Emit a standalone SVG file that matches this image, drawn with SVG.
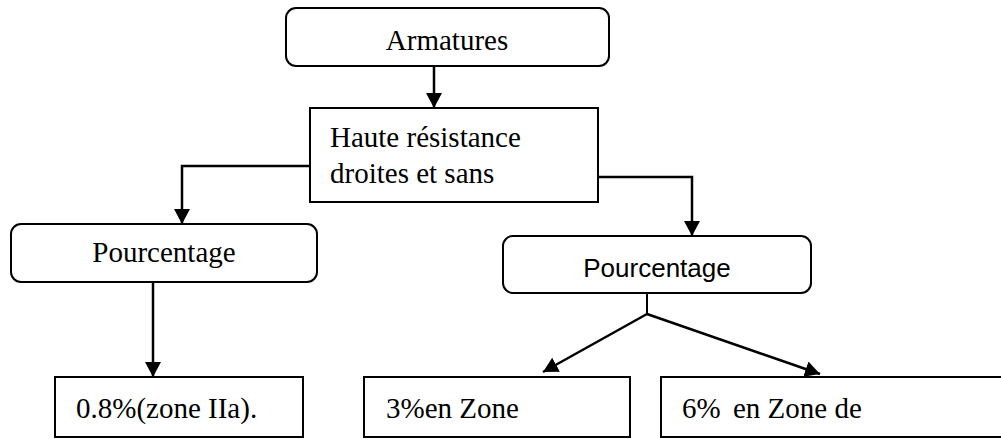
<svg xmlns="http://www.w3.org/2000/svg" width="1001" height="439" viewBox="0 0 1001 439">
<style>
.box{fill:#fff;stroke:#000;stroke-width:2}
.t{font-family:"Liberation Serif","Times New Roman",serif;font-size:29px;fill:#000}
.s{font-family:"Liberation Sans",Arial,sans-serif;font-size:26px;fill:#000}
.c{fill:none;stroke:#000;stroke-width:2.5}
.c2{fill:none;stroke:#000;stroke-width:2}
</style>
<defs>
<marker id="ah" markerUnits="userSpaceOnUse" markerWidth="15" markerHeight="16" refX="15" refY="8" orient="auto" viewBox="0 0 15 16">
<path d="M0,0 L15,8 L0,16 z" fill="#000"/>
</marker>
</defs>
<g id="connectors">
<path class="c" d="M434,66 L434,108" marker-end="url(#ah)"/>
<path class="c" d="M310,166 L182,166 L182,224" marker-end="url(#ah)"/>
<path class="c" d="M598,177 L692,177 L692,236" marker-end="url(#ah)"/>
<path class="c" d="M153,282 L153,377" marker-end="url(#ah)"/>
<path class="c2" d="M647,293 L647,314"/>
<path class="c" d="M647,314 L543,372" marker-end="url(#ah)"/>
<path class="c" d="M647,314 L820,374" marker-end="url(#ah)"/>
</g>
<g id="armatures">
<rect class="box" x="286" y="8" width="323" height="58" rx="10"/>
<text class="t" x="447" y="50" text-anchor="middle">Armatures</text>
</g>
<g id="haute">
<rect class="box" x="310" y="108" width="288" height="94"/>
<text class="t" x="330" y="147">Haute résistance</text>
<text class="t" x="330" y="183">droites et sans</text>
</g>
<g id="pourcentage-left">
<rect class="box" x="11" y="224" width="306" height="58" rx="10"/>
<text class="t" x="164" y="262" text-anchor="middle">Pourcentage</text>
</g>
<g id="pourcentage-right">
<rect class="box" x="503" y="236" width="308" height="57" rx="10"/>
<text class="s" x="657" y="277" text-anchor="middle">Pourcentage</text>
</g>
<g id="b1">
<rect class="box" x="55" y="377" width="248" height="60"/>
<text class="t" x="76" y="418">0.8%(zone IIa).</text>
</g>
<g id="b2">
<rect class="box" x="364" y="377" width="266" height="60"/>
<text class="t" x="386" y="418">3%en Zone</text>
</g>
<g id="b3">
<rect class="box" x="661" y="377" width="360" height="60"/>
<text class="t" x="682" y="418">6%<tspan x="733">en Zone de</tspan></text>
</g>
</svg>
